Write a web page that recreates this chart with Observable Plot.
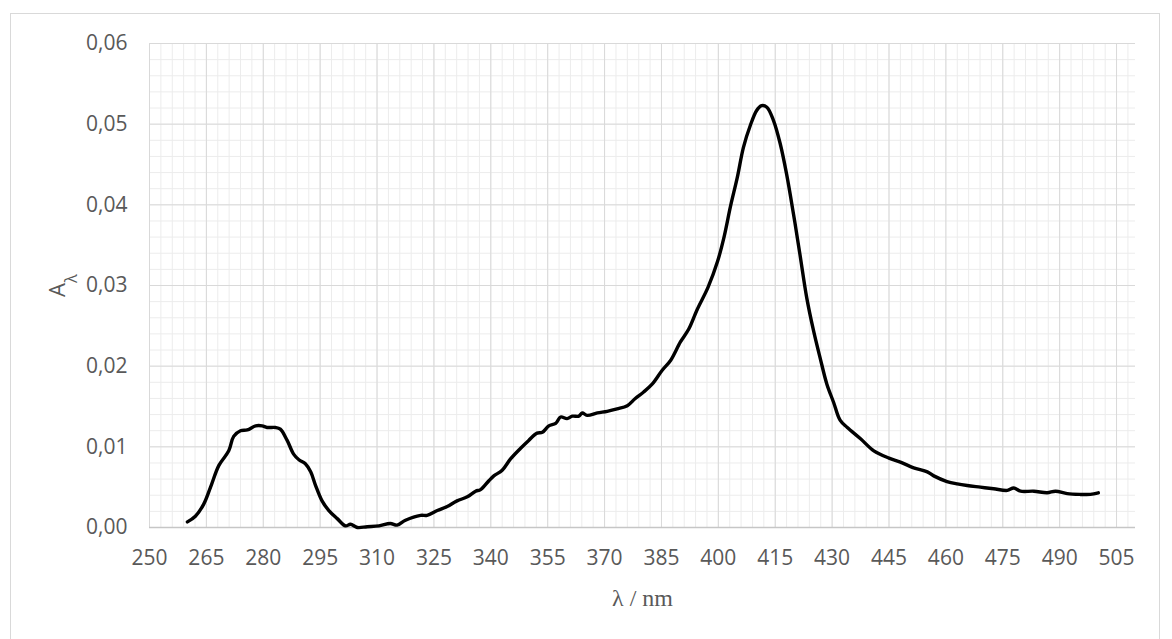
<!DOCTYPE html>
<html>
<head>
<meta charset="utf-8">
<script src="https://cdn.jsdelivr.net/npm/d3@7"></script>
<script src="https://cdn.jsdelivr.net/npm/@observablehq/plot@0.6"></script>
<style>
  html, body { margin: 0; padding: 0; background: #fff; }
  #frame {
    position: absolute; left: 10px; top: 13px;
    width: 1150px; height: 660px;
    border: 1px solid #d9d9d9; box-sizing: border-box;
    background: #fff;
  }
  #chart { position: absolute; left: 0; top: 0; }
</style>
</head>
<body>
<div id="frame"><div id="chart"></div></div>
<script>
// Wavelength (nm)
const wavelength = [
  260.0, 262.1, 264.3, 266.1, 268.3, 270.9, 272.2, 274.0, 275.8, 278.0,
  279.7, 281.0, 283.2, 284.5, 286.3, 288.0, 289.4, 291.1, 292.5, 293.8,
  295.5, 297.3, 299.5, 301.7, 303.0, 304.8, 307.4, 310.5, 313.5, 315.3,
  317.5, 321.5, 323.2, 325.9, 328.5, 331.1, 333.8, 336.0, 337.3, 339.5,
  340.8, 343.0, 345.2, 347.8, 350.0, 352.2, 353.6, 355.3, 357.1, 358.4,
  360.1, 361.5, 363.2, 364.1, 365.4, 368.1, 370.7, 373.3, 376.0, 378.1,
  380.3, 382.6, 385.2, 387.4, 390.0, 392.2, 394.4, 397.3, 399.8, 401.5,
  403.2, 405.0, 406.6, 408.4, 410.1, 411.4, 412.8, 414.5, 416.3, 418.0,
  419.8, 421.5, 423.3, 425.1, 426.8, 428.6, 430.4, 432.1, 434.0, 437.5,
  441.0, 445.0, 448.0, 451.5, 455.1, 456.8, 460.3, 463.0, 465.6, 469.1,
  472.6, 476.2, 477.9, 479.7, 483.2, 486.7, 488.9, 492.0, 495.5, 498.1,
  500.2
];
// Absorbance A_lambda
const absorbance = [
  0.0007, 0.0014, 0.0029, 0.0050, 0.0077, 0.0095, 0.0113, 0.0120, 0.0121, 0.0126,
  0.0126, 0.0124, 0.0124, 0.0122, 0.0108, 0.0091, 0.0084, 0.0079, 0.0069, 0.0052,
  0.0033, 0.0021, 0.0011, 0.0002, 0.0004, 0.0000, 0.0001, 0.0002, 0.0005, 0.0003,
  0.0009, 0.0015, 0.0015, 0.0021, 0.0026, 0.0033, 0.0038, 0.0045, 0.0047, 0.0058,
  0.0064, 0.0071, 0.0085, 0.0098, 0.0108, 0.0117, 0.0118, 0.0126, 0.0129, 0.0137,
  0.0135, 0.0138, 0.0138, 0.0142, 0.0139, 0.0142, 0.0144, 0.0147, 0.0151, 0.0160,
  0.0168, 0.0178, 0.0195, 0.0207, 0.0230, 0.0246, 0.0270, 0.0298, 0.0330, 0.0360,
  0.0398, 0.0434, 0.0471, 0.0498, 0.0517, 0.0523, 0.0521, 0.0505, 0.0476, 0.0438,
  0.0389, 0.0339, 0.0285, 0.0244, 0.0211, 0.0178, 0.0155, 0.0133, 0.0124, 0.0110,
  0.0095, 0.0086, 0.0081, 0.0074, 0.0069, 0.0064, 0.0057, 0.0054, 0.0052, 0.0050,
  0.0048, 0.0046, 0.0049, 0.0045, 0.0045, 0.0043, 0.0045, 0.0042, 0.0041, 0.0041,
  0.0043
];
// Tick labels
const xMajorTicks = [250, 265, 280, 295, 310, 325, 340, 355, 370, 385, 400, 415, 430, 445, 460, 475, 490, 505];
const yMajorTicks = [0, 0.01, 0.02, 0.03, 0.04, 0.05, 0.06];
const xMinorTicks = d3.range(250, 511, 3);
const yMinorTicks = d3.range(0, 30.5, 1).map(i => i * 0.002);
const xTitle = "λ / nm";
const yTitle = "A";
const ySubscript = "λ";

const data = wavelength.map((w, i) => ({w, a: absorbance[i]}));

const svg = Plot.plot({
  width: 1148,
  height: 620,
  marginLeft: 138,
  marginRight: 24,
  marginTop: 29,
  marginBottom: 107,
  style: {fontFamily: "'Open Sans', sans-serif", fontSize: "21px", color: "#595959", background: "transparent"},
  x: {domain: [250, 510], label: null},
  y: {domain: [0, 0.06], label: null},
  marks: [
    Plot.ruleX(xMinorTicks, {stroke: "#ececec", strokeWidth: 1}),
    Plot.ruleY(yMinorTicks, {stroke: "#ececec", strokeWidth: 1}),
    Plot.ruleX(xMajorTicks, {stroke: "#d9d9d9", strokeWidth: 1}),
    Plot.ruleY(yMajorTicks, {stroke: "#d9d9d9", strokeWidth: 1}),
    Plot.ruleY([0], {stroke: "#c6c6c6", strokeWidth: 1.3}),
    Plot.axisX(xMajorTicks, {tickSize: 0, tickPadding: 23, tickFormat: d => String(d),
      label: xTitle, labelArrow: "none", labelAnchor: "center", labelOffset: 78}),
    Plot.axisY(yMajorTicks, {tickSize: 0, tickPadding: 22, tickFormat: d => d.toFixed(2).replace(".", ","),
      label: yTitle, labelArrow: "none", labelAnchor: "center", labelOffset: 100}),
    Plot.line(data, {x: "w", y: "a", stroke: "black", strokeWidth: 3.4, curve: "catmull-rom", strokeLinejoin: "round"})
  ]
});

const s = d3.select(svg);
s.selectAll('[aria-label="x-axis label"] text, [aria-label="x-axis label"]')
  .attr("font-family", "'Liberation Serif', 'Times New Roman', serif")
  .attr("font-size", 24);
s.select('[aria-label="x-axis label"] text').text(xTitle);
s.select('[aria-label="y-axis label"] text').each(function() {
  const t = d3.select(this);
  t.text(yTitle);
  t.append("tspan").attr("baseline-shift", "sub").attr("font-size", "0.75em").text(ySubscript);
});
s.selectAll('[aria-label="y-axis label"] text, [aria-label="y-axis label"]').attr("font-size", 22);

document.getElementById("chart").appendChild(svg);
</script>
</body>
</html>
